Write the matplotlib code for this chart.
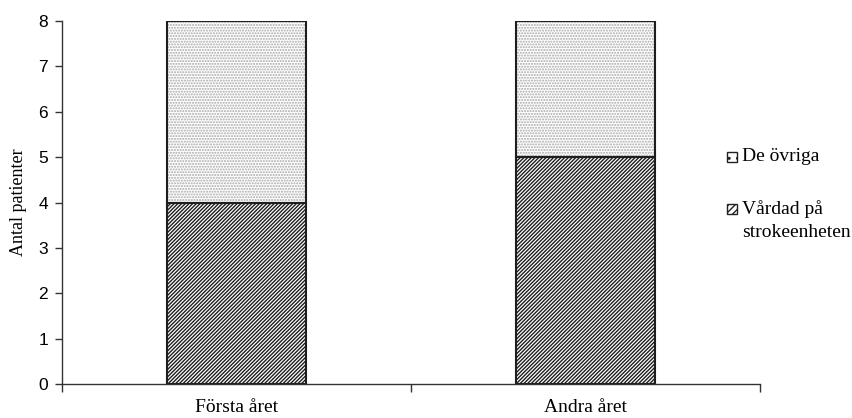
import numpy as np
import matplotlib.pyplot as plt
from matplotlib.patches import Rectangle

# Data
categories = ['Första året', 'Andra året']
vardad = [4, 5]     # Vårdad på strokeenheten
ovriga = [4, 3]     # De övriga
yticks = list(range(0, 9))

serif = ['Liberation Serif', 'DejaVu Serif']
sans = ['Liberation Sans', 'DejaVu Sans']

plt.rcParams['hatch.linewidth'] = 1.0

fig = plt.figure(figsize=(8.53, 4.18), dpi=100)
ax = fig.add_axes([0.0727, 0.0813, 0.8183, 0.8685])

x = np.arange(len(categories))
w = 0.40

# hatched fills (no outline), then black outlines on top
ax.bar(x, vardad, w, color='white', edgecolor='#1e1e1e', hatch='/' * 9, linewidth=0)
ax.bar(x, ovriga, w, bottom=vardad, color='white', edgecolor='#a8a8a8', hatch='.' * 6, linewidth=0)
ax.bar(x, vardad, w, fill=False, edgecolor='#1e1e1e', linewidth=1.5)
ax.bar(x, ovriga, w, bottom=vardad, fill=False, edgecolor='#1e1e1e', linewidth=1.5)

ax.set_xlim(-0.5, 1.5)
ax.set_ylim(0, 8)
ax.set_yticks(yticks)
ax.set_yticklabels([str(t) for t in yticks], family=sans, fontsize=12.5)

# category labels between boundary ticks
ax.set_xticks([-0.5, 0.5, 1.5])
ax.set_xticklabels([])
ax.tick_params(axis='x', length=6, width=1, color='#333333')
ax.tick_params(axis='y', length=5, width=1, color='#333333', pad=5)
for xi, c in zip(x, categories):
    ax.text(xi, -0.33, c, ha='center', va='top', family=serif, fontsize=14)

ax.set_ylabel('Antal patienter', family=serif, fontsize=13, labelpad=8)

for s in ['top', 'right']:
    ax.spines[s].set_visible(False)
for s in ['left', 'bottom']:
    ax.spines[s].set_color('#333333')
    ax.spines[s].set_linewidth(1)

# legend, drawn by hand to keep the handle on the first text line
leg = [('.' * 2, 'De övriga', 162), ('/' * 5, 'Vårdad på\nstrokeenheten', 214)]
for hatch, label, ybot in leg:
    fig.add_artist(Rectangle((727 / 853, 1 - ybot / 418), 10 / 853, 10 / 418,
                             transform=fig.transFigure, facecolor='white',
                             edgecolor='#222222', hatch=hatch, linewidth=1))
    fig.text(742 / 853, 1 - (ybot - 14) / 418, label, ha='left', va='top',
             family=serif, fontsize=14, linespacing=1.45)

fig.savefig('out.png', dpi=100)
